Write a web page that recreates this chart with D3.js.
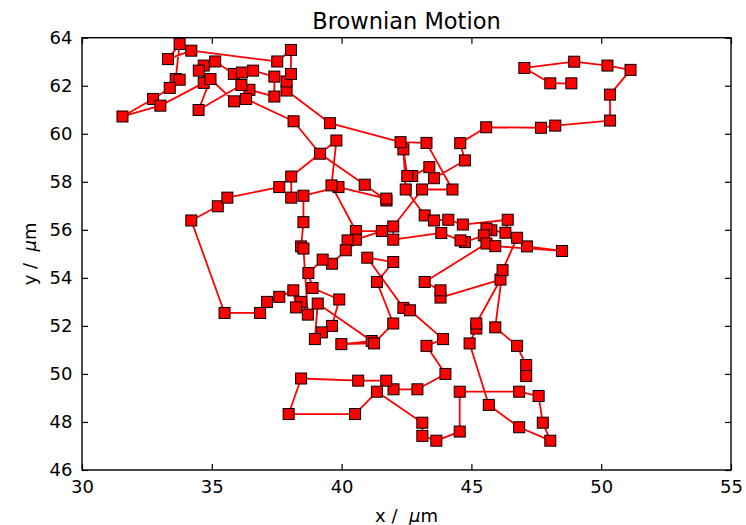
<!DOCTYPE html>
<html lang="en">
<head>
<meta charset="UTF-8">
<title>Brownian Motion</title>
<script src="https://d3js.org/d3.v7.min.js"></script>
<style>
  body { margin: 0; background: #fff; }
  text { font-family: "DejaVu Sans", sans-serif; fill: #000; }
</style>
</head>
<body>
<div id="my_dataviz"></div>
<script>
// path of the particle, in the order it was walked (micrometres)
var pathX = [48.85, 48.04, 47.04, 48.96, 50.24, 51.13, 50.34, 50.34, 48.23, 47.68,
  45.57, 44.57, 44.75, 43.56, 43.38, 42.72, 42.53, 42.38, 42.47, 43.20,
  43.56, 44.11, 44.67, 46.40, 46.31, 45.77, 45.58, 45.48, 44.75, 44.58,
  43.84, 41.99, 41.99, 43.10, 44.27, 43.27, 42.27, 39.55, 37.88, 37.88,
  38.05, 38.05, 37.52, 34.21, 33.31, 33.76, 33.61, 33.76, 33.38, 32.74,
  31.56, 33.02, 34.69, 34.69, 34.50, 35.13, 35.85, 36.16, 36.59, 37.41,
  37.41, 36.45, 36.14, 34.49, 34.95, 35.86, 36.32, 38.15, 39.17, 40.89,
  41.73, 41.72, 39.88, 38.53, 38.53, 38.44, 38.53, 38.70, 38.44, 38.24,
  38.14, 37.60, 37.13, 36.86, 35.49, 34.21, 35.23, 35.60, 37.60, 38.06,
  38.06, 39.80, 39.61, 40.55, 41.55, 40.55, 40.23, 40.16, 39.63, 39.27,
  38.72, 38.88, 39.91, 39.63, 39.24, 38.97, 39.08, 41.16, 39.99, 41.25,
  41.99, 41.36, 41.99, 40.99, 42.38, 42.63, 43.91, 43.27, 44.00, 42.92,
  42.00, 41.72, 40.64, 38.44, 37.96, 40.52, 41.36, 43.11, 43.11, 43.65,
  44.55, 44.55, 46.84, 47.59, 47.75, 48.04, 46.84, 45.67, 44.93, 45.19,
  45.19, 46.12, 43.81, 43.81, 43.20, 45.58, 45.92, 48.49, 47.14, 46.76,
  46.20, 45.92, 46.76, 47.11, 47.11];
var pathY = [62.10, 62.10, 62.74, 63.00, 62.84, 62.66, 61.63, 60.55, 60.34, 60.25,
  60.27, 59.61, 58.89, 58.15, 58.61, 58.24, 58.24, 59.35, 57.68, 56.60,
  56.39, 56.42, 56.22, 56.42, 55.88, 55.98, 56.05, 55.77, 55.49, 55.56,
  55.87, 55.59, 56.14, 57.68, 57.68, 59.62, 59.65, 60.44, 61.80, 62.18,
  62.49, 63.49, 63.01, 63.46, 63.11, 63.74, 62.28, 62.25, 61.91, 61.45,
  60.72, 61.17, 62.12, 62.84, 62.63, 63.01, 62.49, 62.55, 62.63, 62.38,
  61.55, 61.83, 62.03, 60.99, 62.28, 61.35, 61.45, 60.52, 59.17, 57.88,
  57.22, 57.30, 57.78, 57.42, 56.32, 55.31, 55.22, 52.47, 53.00, 52.77,
  53.48, 53.21, 53.00, 52.54, 52.54, 56.39, 56.98, 57.34, 57.78, 57.34,
  58.22, 59.72, 57.85, 55.95, 55.95, 55.59, 55.56, 55.15, 54.59, 54.76,
  54.20, 53.58, 53.10, 52.00, 51.73, 51.45, 52.93, 51.37, 51.24, 51.27,
  52.10, 53.83, 54.66, 54.84, 52.75, 52.65, 51.45, 51.17, 50.00, 49.36,
  49.36, 49.72, 49.72, 49.81, 48.33, 48.33, 49.26, 47.97, 47.42, 47.22,
  47.60, 49.26, 49.26, 49.08, 47.97, 47.22, 47.78, 48.71, 51.27, 51.89,
  52.10, 53.93, 53.18, 53.48, 53.83, 55.43, 55.32, 55.12, 55.31, 55.67,
  54.32, 51.94, 51.17, 50.37, 49.91];

var xTicks = [30, 35, 40, 45, 50, 55];
var yTicks = [46, 48, 50, 52, 54, 56, 58, 60, 62, 64];

var data = pathX.map(function(d, i) { return {x: d, y: pathY[i]}; });

var width = 746, height = 525;
// plot box in pixels (note: "top" is taken by window.top, so prefix these)
var plotLeft = 82, plotRight = 731, plotTop = 37.7, plotBottom = 470;
var fontSize = 18;

var svg = d3.select("#my_dataviz")
  .append("svg")
    .attr("width", width)
    .attr("height", height);

var x = d3.scaleLinear().domain([30, 55]).range([plotLeft, plotRight]);
var y = d3.scaleLinear().domain([46, 64]).range([plotBottom, plotTop]);

// the walk itself
svg.append("path")
  .datum(data)
  .attr("fill", "none")
  .attr("stroke", "#ff0000")
  .attr("stroke-width", 1.8)
  .attr("stroke-linejoin", "round")
  .attr("d", d3.line().x(function(d) { return x(d.x); }).y(function(d) { return y(d.y); }));

// square markers
var ms = 11;
svg.append("g")
  .selectAll("rect")
  .data(data)
  .enter()
  .append("rect")
    .attr("x", function(d) { return x(d.x) - ms / 2; })
    .attr("y", function(d) { return y(d.y) - ms / 2; })
    .attr("width", ms)
    .attr("height", ms)
    .attr("fill", "#ff0000")
    .attr("stroke", "#000")
    .attr("stroke-width", 1);

// axes, ticks pointing inwards like the old matplotlib style
function styleAxis(g) {
  g.select(".domain").remove();
  g.selectAll(".tick line").attr("stroke", "#000").attr("stroke-width", 1.2);
  g.selectAll("text").attr("font-size", fontSize).attr("font-family", "DejaVu Sans").attr("fill", "#000");
}

svg.append("g")
  .attr("transform", "translate(0," + plotBottom + ")")
  .call(d3.axisBottom(x).tickValues(xTicks).tickSize(-6).tickPadding(10).tickFormat(d3.format("d")))
  .call(styleAxis);

svg.append("g")
  .attr("transform", "translate(0," + plotTop + ")")
  .call(d3.axisTop(x).tickValues(xTicks).tickSize(-6).tickFormat(""))
  .call(styleAxis);

svg.append("g")
  .attr("transform", "translate(" + plotLeft + ",0)")
  .call(d3.axisLeft(y).tickValues(yTicks).tickSize(-6).tickPadding(9.5).tickFormat(d3.format("d")))
  .call(styleAxis);

svg.append("g")
  .attr("transform", "translate(" + plotRight + ",0)")
  .call(d3.axisRight(y).tickValues(yTicks).tickSize(-6).tickFormat(""))
  .call(styleAxis);

// frame
svg.append("rect")
  .attr("x", plotLeft)
  .attr("y", plotTop)
  .attr("width", plotRight - plotLeft)
  .attr("height", plotBottom - plotTop)
  .attr("fill", "none")
  .attr("stroke", "#000")
  .attr("stroke-width", 1.4);

// title and axis labels
svg.append("text")
  .attr("x", (plotLeft + plotRight) / 2)
  .attr("y", 28.5)
  .attr("text-anchor", "middle")
  .attr("font-size", 22.5)
  .text("Brownian Motion");

var xl = svg.append("text")
  .attr("x", (plotLeft + plotRight) / 2)
  .attr("y", 521.5)
  .attr("text-anchor", "middle")
  .attr("font-size", fontSize)
  .style("white-space", "pre");
xl.append("tspan").text("x /  ");
xl.append("tspan").attr("font-style", "italic").text("μ");
xl.append("tspan").text("m");

var yl = svg.append("text")
  .attr("transform", "translate(36," + (plotTop + plotBottom) / 2 + ") rotate(-90)")
  .attr("text-anchor", "middle")
  .attr("font-size", fontSize)
  .style("white-space", "pre");
yl.append("tspan").text("y /  ");
yl.append("tspan").attr("font-style", "italic").text("μ");
yl.append("tspan").text("m");
</script>
</body>
</html>
